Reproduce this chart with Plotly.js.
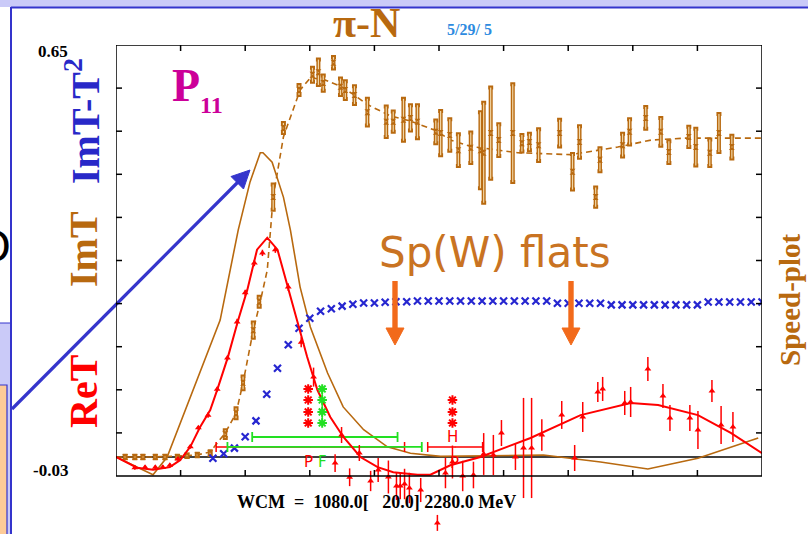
<!DOCTYPE html>
<html><head><meta charset="utf-8">
<script src="https://cdn.plot.ly/plotly-3.0.1.min.js"></script>
<style>html,body{margin:0;padding:0;background:#fff;} #chart{width:808px;height:534px;}</style>
</head><body><div id="chart"></div>
<script>
// ---------- data (W in MeV) ----------
// ImT fit (solid brown)
const imtW = [1080, 1148.8, 1175, 1223, 1273.5, 1307, 1329, 1348, 1353, 1370, 1391, 1404, 1422, 1441, 1473, 1502, 1540, 1584, 1627, 1683, 1874, 1980, 2068, 2161, 2273];
const imtV = [0.0, -0.028, 0.0, 0.106, 0.216, 0.358, 0.434, 0.480, 0.480, 0.465, 0.410, 0.358, 0.268, 0.205, 0.1325, 0.079, 0.043, 0.016, 0.006, 0.001, 0.003, -0.008, -0.019, -0.002, 0.030];
// Speed-plot fit (dashed brown)
const spdFitW = [1080, 1150, 1230, 1255, 1283, 1303, 1316, 1335, 1348, 1361, 1372, 1391, 1409, 1422, 1441, 1465, 1497, 1521, 1547, 1590, 1627, 1674, 1701, 1739, 1826, 1925, 2012, 2074, 2135, 2280];
const spdFitV = [0.0, 0.0, 0.003, 0.008, 0.038, 0.069, 0.117, 0.200, 0.245, 0.295, 0.41, 0.505, 0.548, 0.579, 0.598, 0.596, 0.585, 0.572, 0.556, 0.538, 0.530, 0.515, 0.500, 0.490, 0.480, 0.477, 0.489, 0.500, 0.503, 0.503];
// Speed-plot data (brown hourglass)
const spdW = [1097, 1115, 1130, 1153, 1171, 1194, 1212, 1231, 1255, 1283, 1303, 1316, 1335, 1346, 1372, 1391, 1420, 1445, 1456, 1465, 1484, 1497, 1506, 1523, 1547, 1582, 1595, 1614, 1627, 1640, 1674, 1683, 1700, 1716, 1739, 1757, 1763, 1776, 1791, 1817, 1834, 1848, 1865, 1904, 1928, 1941, 1971, 1979, 2021, 2034, 2064, 2092, 2107, 2144, 2157, 2183, 2200, 2224];
const spdV = [0.0, 0.0, 0.0, 0.0, 0.0, 0.0, 0.002, 0.003, 0.006, 0.036, 0.069, 0.117, 0.200, 0.245, 0.410, 0.519, 0.579, 0.603, 0.607, 0.590, 0.622, 0.584, 0.579, 0.571, 0.544, 0.529, 0.529, 0.532, 0.535, 0.529, 0.513, 0.511, 0.508, 0.484, 0.488, 0.484, 0.480, 0.511, 0.500, 0.511, 0.495, 0.497, 0.492, 0.511, 0.450, 0.497, 0.410, 0.469, 0.492, 0.513, 0.535, 0.513, 0.481, 0.505, 0.489, 0.480, 0.511, 0.489];
const spdE = [0.002, 0.002, 0.002, 0.002, 0.002, 0.002, 0.002, 0.002, 0.003, 0.006, 0.008, 0.010, 0.012, 0.008, 0.020, 0.008, 0.008, 0.011, 0.020, 0.012, 0.009, 0.013, 0.014, 0.014, 0.021, 0.024, 0.016, 0.033, 0.020, 0.026, 0.018, 0.035, 0.025, 0.025, 0.024, 0.060, 0.079, 0.072, 0.025, 0.077, 0.013, 0.013, 0.025, 0.021, 0.028, 0.025, 0.015, 0.018, 0.018, 0.020, 0.017, 0.022, 0.017, 0.016, 0.029, 0.021, 0.030, 0.018];
// ImT - T^2 (blue crosses)
const blueW = [1260, 1280, 1300, 1320, 1340, 1360, 1380, 1400, 1420, 1440, 1460, 1480, 1500, 1520, 1540, 1560, 1580, 1600, 1620, 1640, 1660, 1680, 1700, 1720, 1740, 1760, 1780, 1800, 1820, 1840, 1860, 1880, 1900, 1920, 1940, 1960, 1980, 2000, 2020, 2040, 2060, 2080, 2100, 2120, 2140, 2160, 2180, 2200, 2220, 2240, 2260, 2280];
const blueV = [-0.002, 0.005, 0.014, 0.032, 0.057, 0.099, 0.140, 0.177, 0.203, 0.219, 0.230, 0.234, 0.238, 0.241, 0.243, 0.243, 0.244, 0.245, 0.245, 0.246, 0.246, 0.246, 0.246, 0.246, 0.246, 0.246, 0.246, 0.246, 0.246, 0.246, 0.246, 0.246, 0.2425, 0.2425, 0.2425, 0.2425, 0.2425, 0.240, 0.240, 0.240, 0.240, 0.240, 0.240, 0.240, 0.240, 0.240, 0.2445, 0.2445, 0.2445, 0.2445, 0.2445, 0.2445];
// ReT fit (solid red)
const reFitW = [1080, 1119, 1149, 1180, 1199, 1218, 1236, 1255, 1268, 1288, 1307, 1324, 1342, 1361, 1380, 1398, 1417, 1435, 1454, 1478, 1502, 1534, 1566, 1595, 1640, 1664, 1701, 1757, 1850, 1943, 2036, 2087, 2161, 2222, 2280];
const reFitV = [0.0, -0.017, -0.020, -0.016, -0.005, 0.016, 0.047, 0.074, 0.106, 0.158, 0.216, 0.264, 0.327, 0.346, 0.327, 0.271, 0.216, 0.158, 0.106, 0.063, 0.032, 0.0, -0.016, -0.024, -0.028, -0.028, -0.013, 0.0, 0.030, 0.066, 0.085, 0.082, 0.066, 0.038, 0.006];
// ReT data (red triangles)
const reW = [1115, 1134, 1153, 1167, 1180, 1195, 1218, 1233, 1251, 1268, 1287, 1305, 1320, 1337, 1352, 1376, 1400, 1424, 1447, 1487, 1499, 1514, 1532, 1553, 1567, 1586, 1601, 1608, 1616, 1625, 1646, 1677, 1692, 1705, 1724, 1744, 1763, 1781, 1796, 1822, 1837, 1852, 1871, 1908, 1932, 1947, 1975, 1984, 2025, 2036, 2068, 2096, 2109, 2146, 2161, 2187, 2204, 2226];
const reV = [-0.017, -0.016, -0.016, -0.016, -0.013, -0.003, 0.016, 0.046, 0.066, 0.107, 0.156, 0.213, 0.259, 0.306, 0.322, 0.327, 0.268, 0.181, 0.126, -0.0095, 0.0347, -0.032, 0.0063, -0.0379, -0.0205, -0.0316, -0.0458, -0.0458, -0.0426, -0.0489, -0.0521, -0.104, -0.0253, -0.0079, -0.030, -0.0284, 0.0047, 0.0032, 0.0378, 0.0, 0.0142, 0.0142, 0.0347, 0.0663, -0.0016, 0.0631, 0.1025, 0.1073, 0.0852, 0.0868, 0.1388, 0.0962, 0.0615, 0.0615, 0.0426, 0.1041, 0.0505, 0.0473];
const reE = [0.003, 0.003, 0.003, 0.003, 0.003, 0.003, 0.003, 0.003, 0.004, 0.004, 0.004, 0.005, 0.005, 0.005, 0.005, 0.005, 0.006, 0.008, 0.015, 0.014, 0.0126, 0.014, 0.0126, 0.016, 0.019, 0.026, 0.022, 0.021, 0.024, 0.024, 0.019, 0.0126, 0.024, 0.026, 0.024, 0.021, 0.033, 0.0316, 0.0205, 0.0205, 0.079, 0.079, 0.025, 0.022, 0.0205, 0.0237, 0.0158, 0.019, 0.019, 0.0237, 0.019, 0.019, 0.0205, 0.0205, 0.03, 0.0174, 0.03, 0.0237];
// resonance markers (P = red, F = green)
const starsLow = [0.1073, 0.0899, 0.0710, 0.0536];
const starsHigh = [0.0899, 0.0710, 0.0536];
const resP1 = 1437, resF1 = 1463, resP2 = 1705;
const widthRed = {w: [1441, 1710], v: [0.0158, 0.0158], half: [175, 51]};
const widthGreen = {w: [1468, 1467.5], v: [0.0315, 0.0158], half: [135, 180.5]};
// axis frame and ticks
const xRange = [1080, 2280], yFrame = [-0.03, 0.65];
const xTicks = [1200, 1320, 1440, 1560, 1680, 1800, 1920, 2040, 2160];
const yTicks = [0.582, 0.514, 0.446, 0.378, 0.310, 0.242, 0.174, 0.106, 0.038];

// ---------- styling ----------
const BROWN = '#B8690F', RED = '#FF0000', BLUE = '#2626D0', GREEN = '#22E022';
const SERIF = 'Liberation Serif, Times New Roman, DejaVu Serif, serif';
const SANS = 'DejaVu Sans, Liberation Sans, sans-serif';
const L = 116, T = 45, PW = 646, FH = 431, PH = 534 - T;      // frame 116..762 x 45..476
const yPerPx = (yFrame[1] - yFrame[0]) / FH;
const yBottom = yFrame[0] - (PH - FH) * yPerPx;               // plot area extends to the bottom edge
const xp = px => (px - L) / PW;
const yp = py => (T + PH - py) / PH;

const traces = [
  {x: imtW, y: imtV, mode: 'lines', line: {color: BROWN, width: 1.6}},
  {x: spdFitW, y: spdFitV, mode: 'lines', line: {color: BROWN, width: 1.6, dash: '6px,4px'}},
  {x: spdW, y: spdV, mode: 'markers', marker: {size: 1, color: BROWN},
   error_y: {type: 'data', array: spdE, color: BROWN, thickness: 4, width: 2.5}},
  {x: spdW, y: spdV, mode: 'markers', marker: {symbol: 'hourglass', size: 6, color: BROWN, line: {width: 0}},
   error_y: {type: 'data', array: spdE, color: '#F2D7A6', thickness: 1.2, width: 0}},
  {x: blueW, y: blueV, mode: 'markers', marker: {symbol: 'x-thin-open', size: 7, color: BLUE, line: {color: BLUE, width: 2.2}}},
  {x: widthRed.w.slice(0,1), y: widthRed.v.slice(0,1), mode: 'markers', marker: {size: 1, color: RED},
   error_x: {type: 'data', array: widthRed.half.slice(0,1), color: RED, thickness: 1.5, width: 5}},
  {x: widthGreen.w, y: widthGreen.v, mode: 'markers', marker: {size: 1, color: GREEN},
   error_x: {type: 'data', array: widthGreen.half, color: GREEN, thickness: 1.8, width: 5}},
  {x: widthRed.w.slice(1), y: widthRed.v.slice(1), mode: 'markers', marker: {size: 1, color: RED},
   error_x: {type: 'data', array: widthRed.half.slice(1), color: RED, thickness: 1.5, width: 5}},
  {x: reFitW, y: reFitV, mode: 'lines', line: {color: RED, width: 2}},
  {x: reW, y: reV, mode: 'markers',
   marker: {symbol: 'triangle-up', size: 6, color: RED},
   error_y: {type: 'data', array: reE, color: RED, thickness: 1.5, width: 0}},
  {x: starsLow.map(() => resP1), y: starsLow, mode: 'markers',
   marker: {symbol: 'asterisk-open', size: 8, color: RED, line: {color: RED, width: 2}}},
  {x: starsLow.map(() => resF1), y: starsLow, mode: 'lines+markers', line: {color: GREEN, width: 1.5},
   marker: {symbol: 'asterisk-open', size: 8, color: GREEN, line: {color: GREEN, width: 2}}},
  {x: starsHigh.map(() => resP2), y: starsHigh, mode: 'markers',
   marker: {symbol: 'asterisk-open', size: 8, color: RED, line: {color: RED, width: 2}}}
];

function txt(text, px, py, size, color, opts) {
  return Object.assign({text: text, x: xp(px), y: yp(py), xref: 'paper', yref: 'paper',
    showarrow: false, xanchor: 'center', yanchor: 'middle',
    font: {family: SERIF, size: size, color: color}}, opts || {});
}

const NB = '\u00a0';
const annotations = [
  txt('<b>π-N</b>', 366, 23, 42, BROWN),
  txt('<b>5/29/ 5</b>', 469, 30, 16, '#2E8BE0'),
  txt('<b>P</b>', 186, 85, 46, '#CC0099'),
  txt('<b>11</b>', 211, 105, 24, '#CC0099'),
  txt('<b>ImT-T<sup>2</sup></b>', 83, 121, 40, '#2828C8', {textangle: -90}),
  txt('<b>ImT</b>', 83, 249, 40, BROWN, {textangle: -90}),
  txt('<b>ReT</b>', 83, 391, 40, RED, {textangle: -90}),
  txt('<b>Speed-plot</b>', 790, 300, 29, BROWN, {textangle: -90}),
  txt('<b>0.65</b>', 70, 51, 17, '#000', {xanchor: 'right'}),
  txt('<b>-0.03</b>', 70, 470, 17, '#000', {xanchor: 'right'}),
  txt('<b>WCM' + NB + NB + '=' + NB + NB + '1080.0[' + NB + NB + NB + '20.0] 2280.0 MeV</b>', 376, 502, 18, '#000'),
  txt('Sp(W) flats', 495, 252, 42, '#C97322', {font: {family: SANS, size: 42, color: '#C97322'}}),
  txt('P', 308, 462, 15, RED, {font: {family: SANS, size: 15, color: RED}}),
  txt('F', 322, 462, 15, GREEN, {font: {family: SANS, size: 15, color: GREEN}}),
  txt('P', 454, 463, 15, RED, {font: {family: SANS, size: 15, color: RED}}),
  txt('H', 452, 437, 15, RED, {font: {family: SANS, size: 15, color: RED}}),
  txt('O', 13, 246, 46, '#000', {xanchor: 'right', font: {family: 'Liberation Sans, sans-serif', size: 46, color: '#000'}})
];

const LAV = '#CACAF8', BL = '#3434CC', ORANGE = '#F26A1B';
function pathPx(pts) { return 'M' + pts.map(p => xp(p[0]) + ',' + yp(p[1])).join(' L') + ' Z'; }
const shapes = [
  {type: 'rect', xref: 'paper', yref: 'paper', x0: xp(-5), x1: xp(815), y0: yp(7), y1: yp(-5), fillcolor: LAV, line: {width: 0}},
  {type: 'line', xref: 'paper', yref: 'paper', x0: xp(11), x1: xp(815), y0: yp(7.5), y1: yp(7.5), line: {color: BL, width: 2}},
  {type: 'rect', xref: 'paper', yref: 'paper', x0: xp(-5), x1: xp(11), y0: yp(540), y1: yp(323), fillcolor: LAV, line: {color: BL, width: 1}},
  {type: 'rect', xref: 'paper', yref: 'paper', x0: xp(-5), x1: xp(7), y0: yp(540), y1: yp(385), fillcolor: '#FDCB98', line: {color: BL, width: 1.2}},
  {type: 'line', xref: 'paper', yref: 'paper', x0: xp(11), x1: xp(11), y0: yp(7), y1: yp(540), line: {color: BL, width: 2}},
  // blue pointer arrow
  {type: 'line', xref: 'paper', yref: 'paper', x0: xp(12), y0: yp(409), x1: xp(238), y1: yp(182), line: {color: '#3535CC', width: 3.2}, layer: 'above'},
  {type: 'path', xref: 'paper', yref: 'paper', path: pathPx([[250, 170], [243.5, 189], [231, 176.5]]), fillcolor: '#3535CC', line: {color: '#3535CC', width: 1}, layer: 'above'},
  // orange arrows
  {type: 'rect', xref: 'paper', yref: 'paper', x0: xp(392.3), x1: xp(397.7), y0: yp(330), y1: yp(281), fillcolor: ORANGE, line: {width: 0}, layer: 'above'},
  {type: 'path', xref: 'paper', yref: 'paper', path: pathPx([[386, 328], [404, 328], [395, 345]]), fillcolor: ORANGE, line: {color: ORANGE, width: 1}, layer: 'above'},
  {type: 'rect', xref: 'paper', yref: 'paper', x0: xp(568.3), x1: xp(573.7), y0: yp(330), y1: yp(281), fillcolor: ORANGE, line: {width: 0}, layer: 'above'},
  {type: 'path', xref: 'paper', yref: 'paper', path: pathPx([[562, 328], [580, 328], [571, 345]]), fillcolor: ORANGE, line: {color: ORANGE, width: 1}, layer: 'above'},
  // frame
  {type: 'rect', xref: 'x', yref: 'y', x0: xRange[0], x1: xRange[1], y0: yFrame[0], y1: yFrame[1], line: {color: '#000', width: 1.5}, layer: 'above'},
  {type: 'line', xref: 'x', yref: 'y', x0: xRange[0], x1: xRange[1], y0: 0, y1: 0, line: {color: '#000', width: 1.5}, layer: 'below'}
];
const tx = 6 * (xRange[1] - xRange[0]) / PW, ty = 6 * yPerPx;
xTicks.forEach(v => {
  shapes.push({type: 'line', xref: 'x', yref: 'y', x0: v, x1: v, y0: yFrame[0], y1: yFrame[0] + ty, line: {color: '#000', width: 1.5}, layer: 'above'});
  shapes.push({type: 'line', xref: 'x', yref: 'y', x0: v, x1: v, y0: yFrame[1], y1: yFrame[1] - ty, line: {color: '#000', width: 1.5}, layer: 'above'});
});
yTicks.forEach(v => {
  shapes.push({type: 'line', xref: 'x', yref: 'y', x0: xRange[0], x1: xRange[0] + tx, y0: v, y1: v, line: {color: '#000', width: 1.5}, layer: 'above'});
  shapes.push({type: 'line', xref: 'x', yref: 'y', x0: xRange[1], x1: xRange[1] - tx, y0: v, y1: v, line: {color: '#000', width: 1.5}, layer: 'above'});
});

const layout = {
  width: 808, height: 534, margin: {l: L, r: 808 - L - PW, t: T, b: 0},
  paper_bgcolor: '#fff', plot_bgcolor: 'rgba(0,0,0,0)', showlegend: false,
  xaxis: {range: xRange, visible: false, showgrid: false, zeroline: false},
  yaxis: {range: [yBottom, yFrame[1]], visible: false, showgrid: false, zeroline: false},
  annotations: annotations, shapes: shapes
};
Plotly.newPlot('chart', traces, layout, {staticPlot: true, displayModeBar: false});
</script></body></html>
